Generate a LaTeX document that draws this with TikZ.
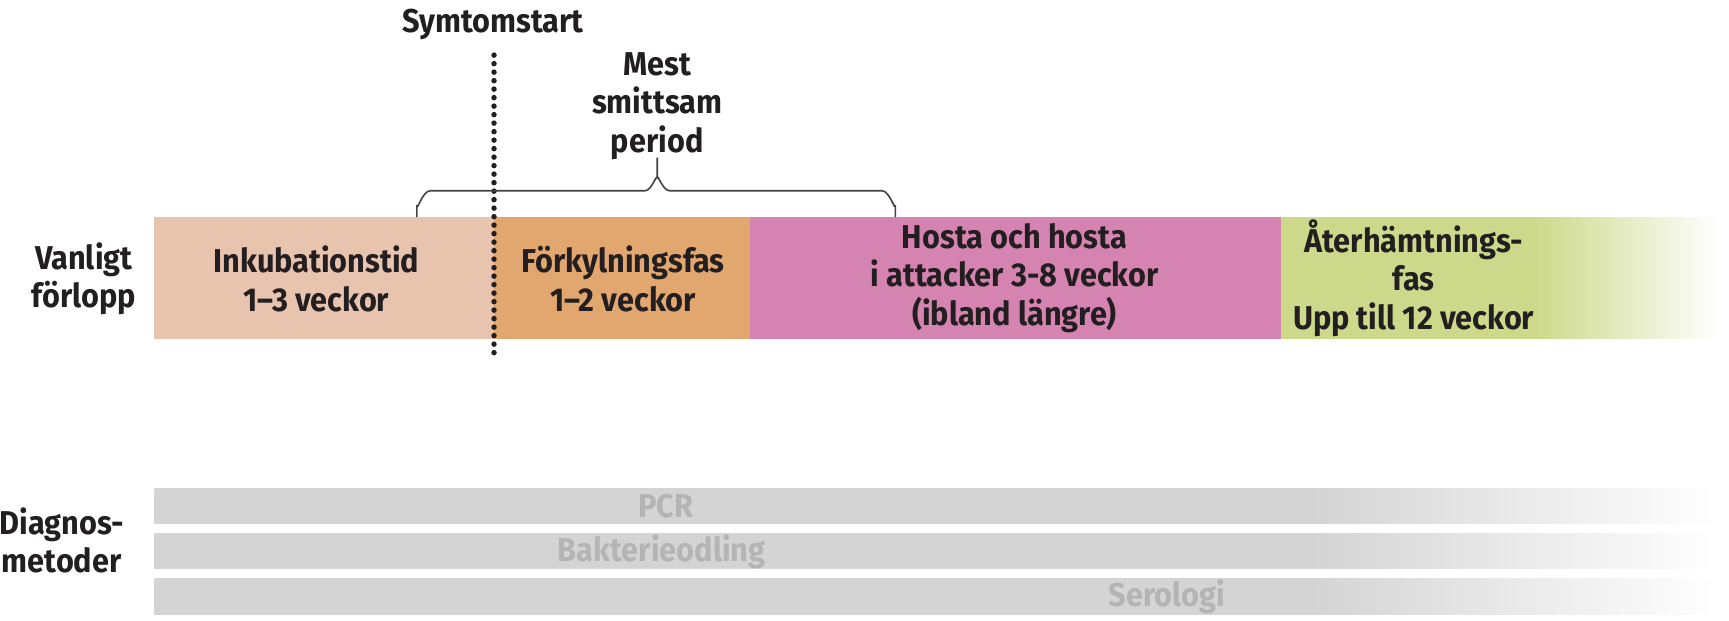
\documentclass[tikz,border=0pt]{standalone}
\usepackage{fontspec}
\setmainfont{Fira Sans}[FakeStretch=0.93]
\definecolor{inkcol}{HTML}{E8C3AE}
\definecolor{forcol}{HTML}{E2A66F}
\definecolor{hoscol}{HTML}{D583B0}
\definecolor{atecol}{HTML}{CDD98A}
\definecolor{diacol}{HTML}{D4D4D4}
\definecolor{diatxt}{HTML}{B4B4B4}
\definecolor{txtcol}{HTML}{231F20}
\pgfdeclarehorizontalshading{atefade}{100bp}{color(0bp)=(atecol); color(54bp)=(atecol); color(75bp)=(white); color(100bp)=(white)}
\pgfdeclarehorizontalshading{diafade}{100bp}{color(0bp)=(diacol); color(62bp)=(diacol); color(75bp)=(white); color(100bp)=(white)}
\tikzset{
  lbl/.style={font=\fontsize{33}{38.5}\selectfont\bfseries,text=txtcol,align=center,inner sep=0pt},
  dialbl/.style={lbl,text=diatxt},
  brace/.style={line width=1.6pt,draw=txtcol!85}
}
\begin{document}
\begin{tikzpicture}[x=1.1027pt,y=-1.1027pt]
\useasboundingbox (0,0) rectangle (1568,563);
% phases
\fill[inkcol] (140,197) rectangle (448,307);
\fill[forcol] (448,197) rectangle (680,307);
\fill[hoscol] (680,197) rectangle (1162,307);
\shade[shading=atefade] (1162,197) rectangle (1560,307);
\node[lbl] (vanligt) at (76,253) {Vanligt\\förlopp};
\node[lbl] (inkub) at (287,253) {Inkubationstid\\1–3 veckor};
\node[lbl] (forkyl) at (565,253) {Förkylningsfas\\1–2 veckor};
\node[lbl] (hosta) at (920,252) {Hosta och hosta\\i attacker 3-8 veckor\\(ibland längre)};
\node[lbl] (aterh) at (1282,252) {Återhämtnings-\\fas\\Upp till 12 veckor};
% symptom start
\node[lbl] (symtom) at (447,22) {Symtomstart};
\draw[txtcol,line width=5.5pt,line cap=round,dash pattern=on 0pt off 8.5pt] (448,50) -- (448,320);
% most contagious period
\node[lbl] (smitt) at (596,96) {Mest\\smittsam\\period};
\draw[brace] (378,197) -- (378,186) to[out=-90,in=180] (390,173) -- (585,173) to[out=0,in=90] (596,162) -- (596,143);
\draw[brace] (812,197) -- (812,186) to[out=-90,in=0] (800,173) -- (607,173) to[out=180,in=90] (596,162);
% diagnostics
\foreach \y in {443,484,525} {
  \shade[shading=diafade] (140,\y) rectangle (1560,\y+32);
}
\node[lbl] (diagnos) at (56,490) {Diagnos-\\metoder};
\node[dialbl] (pcr) at (604,459) {PCR};
\node[dialbl] (bakt) at (600,500) {Bakterieodling};
\node[dialbl] (sero) at (1058,541) {Serologi};
\end{tikzpicture}
\end{document}
